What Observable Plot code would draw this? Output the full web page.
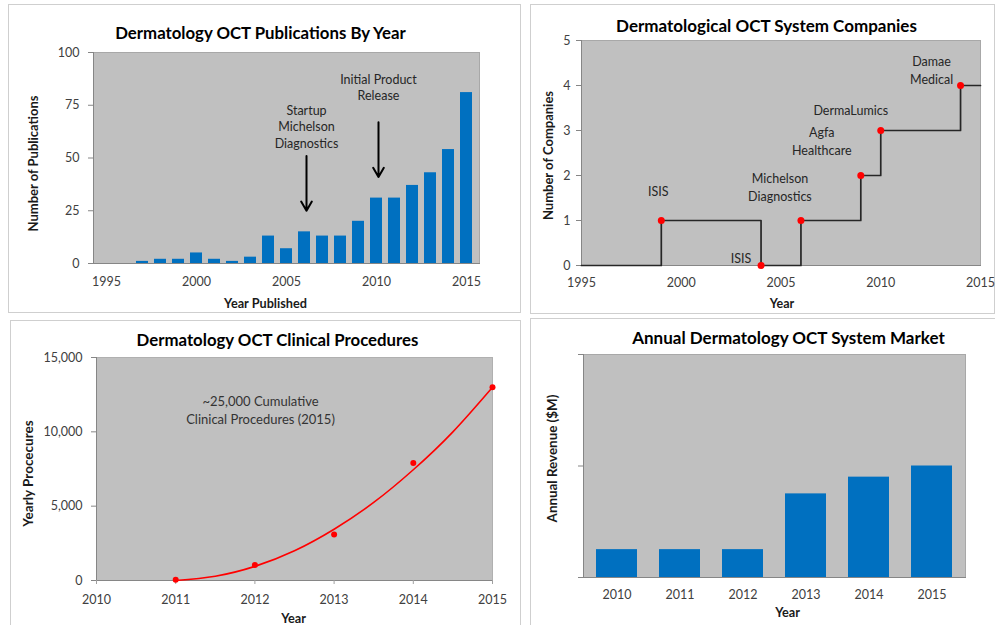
<!DOCTYPE html>
<html>
<head>
<meta charset="utf-8">
<script src="https://cdn.jsdelivr.net/npm/d3@7"></script>
<script src="https://cdn.jsdelivr.net/npm/@observablehq/plot@0.6"></script>
<style>
  body { margin: 0; background: #fff; }
  #page { position: relative; width: 995px; height: 625px; overflow: hidden; background: #fff; font-family: Lato, "Open Sans", sans-serif; }
  .panel { position: absolute; border: 1px solid #cfcfcf; box-sizing: border-box; }
  .chart { position: absolute; }
</style>
</head>
<body>
<div id="page"></div>
<script>
// ---------- Data ----------
// Panel 1: publications per year
const pubYears  = [1995,1996,1997,1998,1999,2000,2001,2002,2003,2004,2005,2006,2007,2008,2009,2010,2011,2012,2013,2014,2015];
const pubCounts = [0,0,1,2,2,5,2,1,3,13,7,15,13,13,20,31,31,37,43,54,81];
const pubXTicks = [1995,2000,2005,2010,2015];
const pubYTicks = [0,25,50,75,100];
const pubNoteYears = [2006, 2010];
const pubNoteTexts = ["Startup\nMichelson\nDiagnostics", "Initial Product\nRelease"];

// Panel 2: number of companies (step series)
const compYears  = [1995,1999,2004,2006,2009,2010,2014,2015];
const compCounts = [0,1,0,1,2,3,4,4];
const eventYears  = [1999,2004,2006,2009,2010,2014];
const eventCounts = [1,0,1,2,3,4];
const eventLabels = ["ISIS","ISIS","Michelson\nDiagnostics","Agfa\nHealthcare","DermaLumics","Damae\nMedical"];
const compXTicks = [1995,2000,2005,2010,2015];
const compYTicks = [0,1,2,3,4,5];

// Panel 3: clinical procedures
const procYears  = [2011,2012,2013,2014,2015];
const procValues = [50,1050,3100,7900,13000];
const trendYears  = [2011,2011.5,2012,2012.5,2013,2013.5,2014,2014.5,2015];
const trendValues = [0,290,950,2000,3450,5250,7450,10000,13000];
const procXTicks = [2010,2011,2012,2013,2014,2015];
const procYTicks = [0,5000,10000,15000];
const procNote = "~25,000 Cumulative\nClinical Procedures (2015)";

// Panel 4: annual market (relative revenue, unlabeled axis)
const marketYears  = [2010,2011,2012,2013,2014,2015];
const marketValues = [0.25,0.25,0.25,0.75,0.9,1.0];
const marketYTicks = [0,1,2];

// ---------- Helpers ----------
const FONT = "Lato, 'Open Sans', sans-serif";
const page = document.getElementById("page");
function addBorder(left, top, width, height) {
  const d = document.createElement("div");
  d.className = "panel";
  Object.assign(d.style, {left: left + "px", top: top + "px", width: width + "px", height: height + "px"});
  page.appendChild(d);
}
function place(node, left, top) {
  node.classList.add("chart");
  node.style.left = left + "px";
  node.style.top = top + "px";
  page.appendChild(node);
}
const yearFmt = d => String(d);
const TICK_FS = 12.5;
const baseStyle = {fontFamily: FONT, fontSize: "12px", background: "transparent", overflow: "visible", color: "#404040"};
function title(text, dx, dy, size) {
  return Plot.text([text], {text: d => d, frameAnchor: "top", textAnchor: "middle", lineAnchor: "middle",
    dx, dy, fontWeight: "bold", fontSize: size, fill: "#000"});
}
function xLabel(text, dx, dy, size) {
  return Plot.text([text], {text: d => d, frameAnchor: "bottom", textAnchor: "middle", lineAnchor: "middle",
    dx, dy, fontWeight: "bold", fontSize: size, fill: "#1a1a1a"});
}
function yLabel(text, dx, dy, size) {
  return Plot.text([text], {text: d => d, frameAnchor: "left", textAnchor: "middle", lineAnchor: "middle",
    rotate: -90, dx, dy, fontWeight: "bold", fontSize: size, fill: "#1a1a1a"});
}
const PLOT_BG = "#c0c0c0";
const AXIS = "#868686";
const BLUE = "#0070c0";
const RED = "#ff0000";

// ---------- Panel 1 ----------
addBorder(8, 4, 513, 309);
const pubData = pubYears.map((year, i) => ({year, count: pubCounts[i]}));
const pubNotes = pubNoteYears.map((year, i) => ({year, text: pubNoteTexts[i], count: pubCounts[pubYears.indexOf(year)]}));
const p1 = Plot.plot({
  width: 512, height: 308,
  marginLeft: 85, marginRight: 41, marginTop: 48, marginBottom: 49,
  style: baseStyle,
  x: {type: "band", domain: pubYears, paddingInner: 0.35, paddingOuter: 0.175, axis: null},
  y: {domain: [0, 100], axis: null},
  marks: [
    Plot.frame({fill: PLOT_BG, stroke: "#a8a8a8"}),
    Plot.barY(pubData, {x: "year", y: "count", fill: BLUE}),
    Plot.frame({anchor: "left", stroke: AXIS}),
    Plot.frame({anchor: "bottom", stroke: AXIS}),
    Plot.axisY({ticks: pubYTicks, tickSize: 5, tickPadding: 9, stroke: AXIS, fill: "#404040", fontSize: TICK_FS, label: null}),
    Plot.axisX({ticks: pubXTicks, tickFormat: yearFmt, tickSize: 0, tickPadding: 14, fill: "#404040", fontSize: TICK_FS, label: null}),
    Plot.arrow(pubNotes, {x: "year", y1: d => d.count + 36, y2: d => d.count + 10, stroke: "#000", strokeWidth: 2, headLength: 8, dx: 2}),
    Plot.text(pubNotes.slice(0, 1), {x: "year", y: d => d.count + 36, text: "text", lineAnchor: "bottom", dy: -8, dx: 2, lineHeight: 1.33, fontSize: 12.5, fill: "#262626"}),
    Plot.text(pubNotes.slice(1, 2), {x: "year", y: d => d.count + 36, text: "text", lineAnchor: "bottom", dy: -22, dx: 2, lineHeight: 1.33, fontSize: 12.5, fill: "#262626"}),
    title("Dermatology OCT Publications By Year", -26, -19, 16.8),
    xLabel("Year Published", -21, 40, 12.7),
    yLabel("Number of Publications", -60, 5.5, 13)
  ]
});
place(p1, 8, 4);

// ---------- Panel 2 ----------
addBorder(530, 4, 465, 310);
const compData = compYears.map((year, i) => ({year, n: compCounts[i]}));
const events = eventYears.map((year, i) => ({year, n: eventCounts[i], label: eventLabels[i]}));
const eventOffsets = [[-3, -30], [-20, -8], [-21, -34], [-39, -35], [-30, -21], [-29, -16]];
const p2 = Plot.plot({
  width: 465, height: 309,
  marginLeft: 51, marginRight: 15, marginTop: 36, marginBottom: 48,
  style: baseStyle,
  x: {domain: [1995, 2015], axis: null},
  y: {domain: [0, 5], axis: null},
  marks: [
    Plot.frame({fill: PLOT_BG, stroke: "#a8a8a8"}),
    Plot.frame({anchor: "left", stroke: AXIS}),
    Plot.frame({anchor: "bottom", stroke: AXIS}),
    Plot.axisY({ticks: compYTicks, tickFormat: yearFmt, tickSize: 5, tickPadding: 6, stroke: AXIS, fill: "#404040", fontSize: TICK_FS, label: null}),
    Plot.axisX({ticks: compXTicks, tickFormat: yearFmt, tickSize: 0, tickPadding: 13, fill: "#404040", fontSize: TICK_FS, label: null}),
    Plot.line(compData, {x: "year", y: "n", curve: "step-after", stroke: "#262626", strokeWidth: 1.7}),
    Plot.dot(events, {x: "year", y: "n", r: 3.5, fill: RED}),
    ...events.map((e, i) => Plot.text([e], {x: "year", y: "n", text: "label", dx: eventOffsets[i][0], dy: eventOffsets[i][1],
      lineHeight: 1.38, fontSize: 12.5, fill: "#262626"})),
    title("Dermatological OCT System Companies", -14.5, -14, 17),
    xLabel("Year", 1, 38, 12.5),
    yLabel("Number of Companies", -33, 2.5, 13)
  ]
});
place(p2, 530, 4);

// ---------- Panel 3 ----------
addBorder(10, 320, 511, 320);
const procData = procYears.map((year, i) => ({year, value: procValues[i]}));
const trendData = trendYears.map((year, i) => ({year, value: trendValues[i]}));
const p3 = Plot.plot({
  width: 510, height: 305,
  marginLeft: 86, marginRight: 28, marginTop: 37, marginBottom: 45,
  style: baseStyle,
  x: {domain: [2010, 2015], axis: null},
  y: {domain: [0, 15000], axis: null},
  marks: [
    Plot.frame({fill: PLOT_BG, stroke: "#b0b0b0"}),
    Plot.frame({anchor: "left", stroke: AXIS}),
    Plot.frame({anchor: "bottom", stroke: AXIS}),
    Plot.axisY({ticks: procYTicks, tickFormat: d3.format(","), tickSize: 5, tickPadding: 9, stroke: AXIS, fill: "#404040", fontSize: TICK_FS, label: null}),
    Plot.axisX({ticks: procXTicks, tickFormat: yearFmt, tickSize: 4, tickPadding: 11, stroke: "#a0a0a0", fill: "#404040", fontSize: TICK_FS, label: null}),
    Plot.line(trendData, {x: "year", y: "value", curve: "natural", stroke: RED, strokeWidth: 1.6}),
    Plot.dot(procData, {x: "year", y: "value", r: 3, fill: RED}),
    Plot.text([procNote], {text: d => d, frameAnchor: "top", textAnchor: "middle", lineAnchor: "middle", dx: -34, dy: 51.5,
      lineHeight: 1.38, fontSize: 13, fill: "#333"}),
    title("Dermatology OCT Clinical Procedures", -17, -17, 16.8),
    xLabel("Year", -1, 38, 12.7),
    yLabel("Yearly Procecures", -68, 4.5, 13.5)
  ]
});
place(p3, 10, 320);

// ---------- Panel 4 ----------
addBorder(530, 318, 470, 320);
const marketData = marketYears.map((year, i) => ({year, value: marketValues[i]}));
const p4 = Plot.plot({
  width: 465, height: 307,
  marginLeft: 53, marginRight: 30, marginTop: 36, marginBottom: 48,
  style: baseStyle,
  x: {type: "band", domain: marketYears, paddingInner: 0.35, paddingOuter: 0.175, axis: null},
  y: {domain: [0, 2], axis: null},
  marks: [
    Plot.frame({fill: PLOT_BG, stroke: "#a8a8a8"}),
    Plot.barY(marketData, {x: "year", y: "value", fill: BLUE}),
    Plot.frame({anchor: "left", stroke: AXIS}),
    Plot.frame({anchor: "bottom", stroke: AXIS}),
    Plot.axisY({ticks: marketYTicks, tickFormat: () => "", tickSize: 5, tickPadding: 4, stroke: AXIS, label: null}),
    Plot.axisX({tickFormat: yearFmt, tickSize: 0, tickPadding: 13, fill: "#404040", fontSize: TICK_FS, label: null}),
    title("Annual Dermatology OCT System Market", 14, -16, 17),
    xLabel("Year", 13, 35, 12.7),
    yLabel("Annual Revenue ($M)", -31, -7.5, 13.4)
  ]
});
place(p4, 530, 318);
</script>
</body>
</html>
